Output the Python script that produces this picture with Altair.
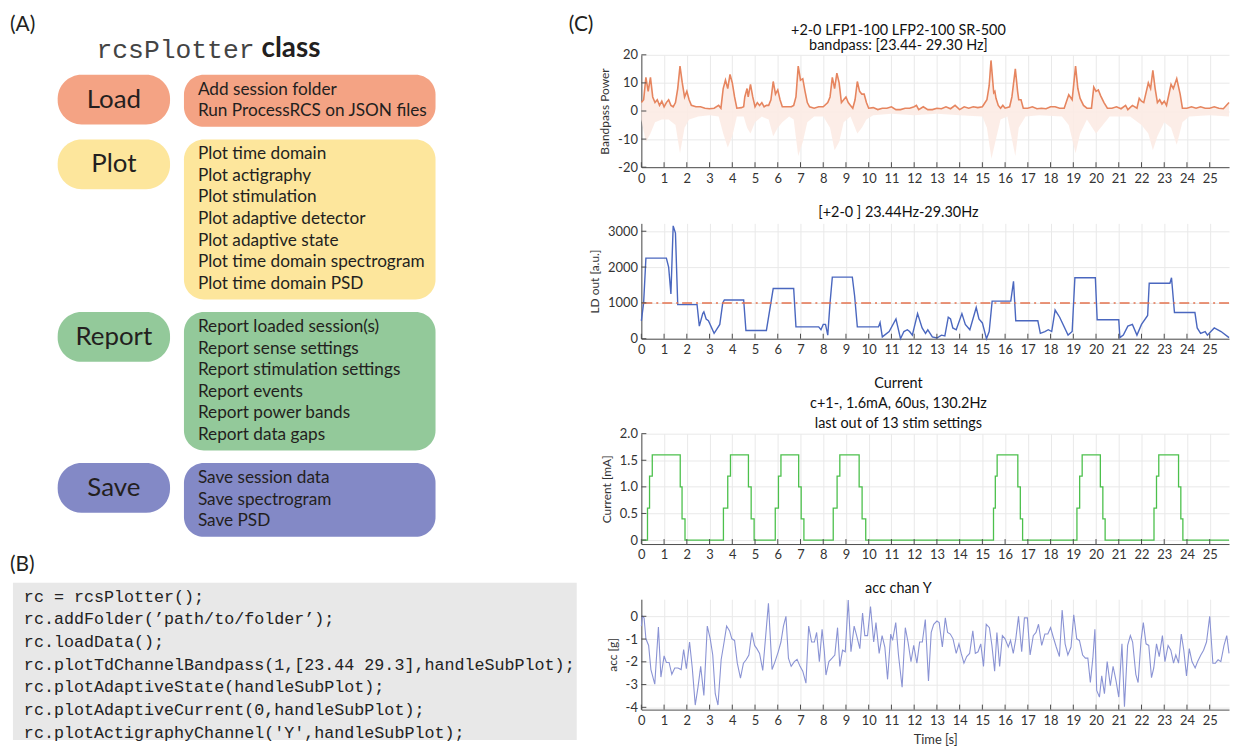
import altair as alt
import pandas as pd

FONT = "Lato"
MONO = "Liberation Mono"

# ---------------- data: panel (A) ----------------
GROUP_NAMES = ["Load", "Plot", "Report", "Save"]
GROUP_COLORS = ["#f4a384", "#fde69c", "#93c99a", "#8389c6"]
GROUP_ITEMS = [
    ["Add session folder", "Run ProcessRCS on JSON files"],
    ["Plot time domain", "Plot actigraphy", "Plot stimulation", "Plot adaptive detector",
     "Plot adaptive state", "Plot time domain spectrogram", "Plot time domain PSD"],
    ["Report loaded session(s)", "Report sense settings", "Report stimulation settings",
     "Report events", "Report power bands", "Report data gaps"],
    ["Save session data", "Save spectrogram", "Save PSD"],
]

# ---------------- data: panel (B) ----------------
CODE_LINES = [
    "rc = rcsPlotter();",
    "rc.addFolder(\u2019path/to/folder\u2019);",
    "rc.loadData();",
    "rc.plotTdChannelBandpass(1,[23.44 29.3],handleSubPlot);",
    "rc.plotAdaptiveState(handleSubPlot);",
    "rc.plotAdaptiveCurrent(0,handleSubPlot);",
    "rc.plotActigraphyChannel('Y',handleSubPlot);",
]

# ---------------- data: panel (C) ----------------
X_MAX = 25.85
X_TICKS = list(range(0, 26))

BANDPASS = [
    (0, 3), (0.1, 4), (0.2, 12), (0.3, 7), (0.4, 12), (0.5, 5), (0.6, 3), (0.7, 4), (0.8, 2),
    (0.9, 3.5), (1.0, 1.5), (1.1, 3), (1.2, 4), (1.3, 2), (1.4, 1.5), (1.5, 3), (1.6, 8),
    (1.7, 16), (1.8, 10), (1.9, 5), (2.0, 7), (2.1, 4), (2.2, 2), (2.4, 1.5), (2.6, 1.5),
    (2.8, 1), (3.0, 0.8), (3.2, 1), (3.4, 2), (3.5, 1), (3.6, 8), (3.7, 11), (3.8, 8),
    (3.9, 13), (4.0, 10), (4.1, 5), (4.2, 1), (4.4, 1.2), (4.5, 1.5), (4.55, 5), (4.65, 8),
    (4.7, 5), (4.8, 9.5), (4.9, 5), (5.0, 1.5), (5.1, 3), (5.2, 2), (5.3, 3), (5.4, 1.5),
    (5.5, 2), (5.6, 2), (5.7, 4), (5.8, 10.5), (5.9, 6), (6.0, 7.5), (6.1, 4), (6.2, 1.5),
    (6.4, 1.5), (6.6, 1.5), (6.7, 2), (6.8, 5), (6.9, 16), (7.0, 11), (7.1, 11.5), (7.2, 7),
    (7.3, 3), (7.4, 1.5), (7.6, 1), (7.8, 1.5), (8.0, 1.5), (8.2, 3), (8.3, 5), (8.4, 12),
    (8.5, 8), (8.6, 13.5), (8.7, 10), (8.8, 3), (8.9, 4), (9.0, 5), (9.1, 3), (9.2, 2),
    (9.3, 1), (9.4, 4), (9.5, 10.5), (9.6, 7), (9.7, 6), (9.8, 6), (9.9, 3), (10.0, 1),
    (10.2, 1.2), (10.4, 0.5), (10.6, 1), (10.8, 1), (11.0, 1.5), (11.2, 0.5), (11.4, 0.5),
    (11.6, 1), (11.8, 1), (12.0, 1.5), (12.1, 2), (12.2, 0.5), (12.4, 1.5), (12.6, 0.5),
    (12.8, 0.5), (13.0, 1), (13.2, 0.8), (13.4, 1.5), (13.6, 0.8), (13.8, 2), (14.0, 0.5),
    (14.2, 1.5), (14.4, 1), (14.6, 1.5), (14.8, 1.2), (15.0, 1.5), (15.2, 4), (15.3, 9),
    (15.38, 18), (15.5, 6.5), (15.55, 7), (15.6, 4.5), (15.7, 2), (15.8, 1), (15.9, 2),
    (16.0, 1), (16.2, 1.5), (16.3, 5), (16.45, 15), (16.55, 7), (16.6, 4), (16.7, 4),
    (16.8, 1), (17.0, 1), (17.2, 1.5), (17.4, 0.8), (17.6, 1), (17.8, 0.8), (18.0, 1.5),
    (18.2, 1.5), (18.4, 1), (18.6, 1), (18.8, 5.8), (18.95, 4), (19.1, 16), (19.2, 8),
    (19.3, 4.5), (19.45, 2), (19.6, 1), (19.8, 1), (19.9, 8.5), (20.0, 7), (20.1, 7.5),
    (20.2, 5.5), (20.35, 3), (20.5, 1), (20.7, 1), (20.9, 1.5), (21.1, 0.8), (21.3, 2),
    (21.4, 0.5), (21.6, 2), (21.8, 1), (21.9, 4.5), (22.0, 3.5), (22.1, 3), (22.3, 10),
    (22.4, 8), (22.5, 14.5), (22.6, 8), (22.7, 3), (22.8, 4), (22.9, 2.5), (23.0, 3.5),
    (23.1, 2), (23.3, 9.5), (23.4, 8), (23.55, 11.5), (23.7, 6), (23.8, 1), (24.0, 1),
    (24.2, 1.5), (24.4, 1), (24.6, 1.5), (24.8, 1), (25.0, 1), (25.2, 1.5), (25.4, 1),
    (25.6, 0.8), (25.85, 3),
]

BANDPASS_NEG = [
    (0, -3), (0.2, -11), (0.4, -8), (0.6, -4), (0.9, -3), (1.2, -3), (1.5, -5), (1.7, -15),
    (1.9, -6), (2.1, -3), (2.5, -2), (3.0, -1.5), (3.4, -2), (3.6, -8), (3.8, -13), (4.0, -9),
    (4.2, -2), (4.5, -2), (4.65, -6), (4.8, -8), (5.0, -4), (5.3, -2), (5.6, -3), (5.8, -9),
    (6.0, -6), (6.2, -4), (6.5, -2), (6.7, -3), (6.9, -16), (7.1, -11), (7.3, -4), (7.6, -2),
    (8.0, -2), (8.3, -6), (8.5, -14), (8.7, -11), (8.9, -4), (9.2, -2), (9.5, -8), (9.7, -6),
    (9.9, -3), (10.2, -1.5), (11.0, -1), (12.0, -1.5), (13.0, -1), (14.0, -1.5), (15.0, -2),
    (15.2, -6), (15.4, -17), (15.6, -10), (15.8, -3), (16.1, -2), (16.45, -16), (16.6, -6),
    (16.9, -2), (17.5, -1.5), (18.5, -2), (18.8, -5), (19.1, -15), (19.3, -8), (19.6, -3),
    (20.0, -8), (20.3, -5), (20.6, -2), (21.5, -2), (22.0, -5), (22.3, -8), (22.5, -14),
    (22.7, -9), (23.0, -4), (23.3, -6), (23.55, -12), (23.8, -4), (24.1, -2), (25.0, -1.5),
    (25.85, -2),
]

LD_OUT = [
    (0, 500), (0.1, 1000), (0.2, 2250), (1.1, 2250), (1.2, 2000), (1.3, 1250), (1.4, 3150),
    (1.5, 2950), (1.6, 950), (2.45, 950), (2.55, 350), (2.7, 700), (2.75, 750), (2.85, 550),
    (2.95, 500), (3.2, 150), (3.3, 250), (3.45, 400), (3.58, 1000), (3.65, 1080), (4.5, 1080),
    (4.6, 230), (5.5, 230), (5.8, 1400), (6.7, 1400), (6.8, 330), (7.8, 330), (7.9, 250),
    (8.0, 400), (8.1, 400), (8.2, 100), (8.3, 1000), (8.4, 1720), (9.28, 1720), (9.38, 1200),
    (9.5, 330), (10.43, 330), (10.5, 450), (10.6, 50), (10.9, 200), (11.2, 550), (11.4, 0),
    (11.55, 200), (11.7, 250), (11.8, 200), (11.92, 100), (12.15, 700), (12.35, 300),
    (12.5, 150), (12.6, 250), (12.8, 50), (13.0, 20), (13.2, 100), (13.35, 80), (13.5, 600),
    (13.6, 550), (13.7, 300), (13.85, 250), (14.1, 700), (14.25, 400), (14.45, 250),
    (14.73, 870), (14.85, 550), (15.0, 440), (15.18, 0), (15.3, 200), (15.43, 1050),
    (16.25, 1050), (16.37, 1600), (16.47, 500), (17.44, 500), (17.55, 150), (17.75, 200),
    (17.9, 250), (18.05, 200), (18.2, 800), (18.4, 600), (18.77, 100), (18.95, 200),
    (19.07, 1700), (19.97, 1700), (20.05, 530), (21.0, 530), (21.05, 30), (21.2, 100),
    (21.4, 350), (21.6, 400), (21.8, 100), (22.0, 400), (22.27, 650), (22.34, 1550),
    (23.25, 1550), (23.32, 1700), (23.45, 730), (24.35, 730), (24.45, 300), (24.6, 150),
    (24.8, 200), (24.9, 100), (25.2, 300), (25.5, 200), (25.85, 30),
]
LD_THRESHOLD = [1000]

CURRENT = [
    (0, 0), (0.27, 0.6), (0.36, 1.2), (0.48, 1.6), (1.71, 1.0), (1.79, 0.4), (1.92, 0),
    (3.61, 0.6), (3.8, 1.2), (3.92, 1.6), (4.71, 1.0), (4.83, 0.4), (4.96, 0),
    (5.89, 0.6), (6.03, 1.2), (6.14, 1.6), (6.92, 1.0), (7.03, 0.4), (7.15, 0),
    (8.44, 0.6), (8.61, 1.2), (8.73, 1.6), (9.58, 1.0), (9.71, 0.4), (9.87, 0),
    (15.49, 0.6), (15.57, 1.2), (15.65, 1.6), (16.56, 1.0), (16.67, 0.4), (16.77, 0),
    (19.16, 0.6), (19.28, 1.2), (19.39, 1.6), (20.19, 1.0), (20.3, 0.4), (20.4, 0),
    (22.55, 0.6), (22.66, 1.2), (22.76, 1.6), (23.63, 1.0), (23.73, 0.4), (23.82, 0),
    (25.85, 0),
]

ACC_Y = [
    (0.00, -0.43), (0.05, 0.00), (0.12, -0.07), (0.20, -0.99), (0.32, -1.28), (0.42, -2.34),
    (0.59, -2.98), (0.75, -0.47), (0.86, -2.67), (1.00, -1.74), (1.10, -2.03), (1.22, -2.03),
    (1.34, -2.55), (1.47, -2.27), (1.61, -2.27), (1.75, -2.34), (1.86, -1.46), (1.98, -2.30),
    (2.12, -1.13), (2.24, -2.27), (2.37, -3.90), (2.49, -3.12), (2.61, -2.20), (2.75, -3.48),
    (2.90, -0.43), (3.03, -0.99), (3.14, -1.70), (3.25, -3.40), (3.37, -3.90), (3.51, -1.91),
    (3.64, -1.13), (3.75, -0.43), (3.88, -0.64), (3.98, -0.99), (4.10, -1.06), (4.22, -2.06),
    (4.36, -2.72), (4.49, -2.06), (4.61, -1.91), (4.73, -1.70), (4.86, -0.71), (4.98, -1.28),
    (5.08, -1.42), (5.20, -1.63), (5.34, -2.38), (5.47, -0.85), (5.59, 0.57), (5.75, -2.34),
    (5.88, -1.99), (6.02, -1.56), (6.14, -1.13), (6.25, -0.43), (6.36, 0.00), (6.47, -1.84),
    (6.59, -2.20), (6.73, -1.99), (6.85, -1.89), (6.98, -2.20), (7.10, -2.41), (7.24, -2.94),
    (7.36, -0.43), (7.49, -1.13), (7.61, -1.13), (7.71, -0.71), (7.83, -1.99), (7.95, -0.57),
    (8.05, -1.56), (8.12, -2.58), (8.25, -1.99), (8.39, -1.84), (8.51, -1.70), (8.63, -0.50),
    (8.73, -2.20), (8.85, -1.49), (8.97, -1.56), (9.10, 0.71), (9.22, -1.56), (9.36, -0.43),
    (9.47, -0.85), (9.61, -1.42), (9.73, 0.14), (9.83, -0.85), (9.95, -0.85), (10.08, 0.43),
    (10.22, -1.13), (10.32, -0.28), (10.46, -1.63), (10.59, -0.85), (10.71, -1.35),
    (10.83, -2.77), (10.97, -0.78), (11.05, -1.06), (11.19, -0.28), (11.31, -1.70),
    (11.47, -3.12), (11.61, -0.50), (11.73, -1.13), (11.86, -1.99), (11.98, -1.28),
    (12.12, -2.06), (12.24, -1.13), (12.36, -1.13), (12.49, -0.14), (12.63, -2.84),
    (12.75, -0.71), (12.86, -0.35), (13.00, -0.21), (13.10, -0.28), (13.24, -1.35),
    (13.37, -0.07), (13.47, -0.71), (13.59, -0.78), (13.71, -0.99), (13.85, -1.63),
    (13.97, -1.21), (14.07, -1.63), (14.19, -2.06), (14.31, -1.77), (14.44, -1.63),
    (14.58, -0.64), (14.69, -1.63), (14.81, -1.56), (14.93, -1.21), (15.05, -2.20),
    (15.17, -0.35), (15.31, -0.50), (15.42, -1.28), (15.54, -2.41), (15.64, -0.71),
    (15.76, -2.20), (15.88, -0.85), (16.00, -0.99), (16.14, -1.35), (16.24, -1.06),
    (16.36, -1.63), (16.47, -0.99), (16.59, 0.00), (16.73, -1.56), (16.85, -0.07),
    (16.98, -0.07), (17.10, -1.70), (17.24, -0.85), (17.36, -0.71), (17.47, -0.35),
    (17.61, -1.28), (17.75, -0.78), (17.88, -0.78), (18.00, -0.50), (18.12, -0.92),
    (18.25, -1.35), (18.39, -1.77), (18.51, 0.28), (18.64, -1.21), (18.76, -1.70),
    (18.90, -1.35), (19.02, 0.07), (19.15, -0.99), (19.27, -1.06), (19.41, -1.70),
    (19.53, -1.84), (19.64, -1.84), (19.75, -2.91), (19.86, -1.84), (19.95, -0.57),
    (20.03, -3.26), (20.15, -3.55), (20.25, -2.62), (20.37, -3.40), (20.49, -1.99),
    (20.63, -3.05), (20.75, -2.20), (20.88, -2.84), (21.00, -3.55), (21.14, -1.21),
    (21.25, -3.97), (21.39, -1.28), (21.51, -0.85), (21.61, -1.13), (21.75, -2.55),
    (21.85, -2.91), (21.98, -1.06), (22.08, -0.28), (22.20, -1.21), (22.32, -1.28),
    (22.44, -2.70), (22.54, -2.27), (22.66, -1.21), (22.78, -1.77), (22.92, -0.85),
    (23.03, -1.99), (23.17, -1.28), (23.29, -1.49), (23.41, -2.06), (23.51, -1.70),
    (23.63, -2.06), (23.75, -0.78), (23.86, -1.49), (23.98, -2.62), (24.10, -1.42),
    (24.22, -1.99), (24.36, -2.27), (24.47, -1.99), (24.61, -1.70), (24.73, -1.49),
    (24.86, -1.13), (25.00, 0.00), (25.14, -2.06), (25.25, -2.06), (25.37, -1.91),
    (25.49, -1.99), (25.63, -1.28), (25.75, -0.85), (25.85, -1.63),
]

# ---------------- layout (panel A/B, in page pixels) ----------------
W_LEFT = 580
H_PAGE = 751
TOP_PAD = 5
Y_ORIGIN = 53          # the left view's plot area is aligned with the first right panel
LINE_H = 21.7
BOX_TOP0 = 73
BOX_GAP = 12

xs = alt.Scale(domain=[0, W_LEFT], nice=False, zero=False)
ys = alt.Scale(domain=[Y_ORIGIN, H_PAGE], nice=False, zero=False, reverse=True)


def XL(f):
    return alt.X(f, type="quantitative", scale=xs, axis=None)


def YL(f):
    return alt.Y(f, type="quantitative", scale=ys, axis=None)


right_boxes, left_boxes, labels, items = [], [], [], []
top = BOX_TOP0
for name, color, its in zip(GROUP_NAMES, GROUP_COLORS, GROUP_ITEMS):
    h = len(its) * LINE_H + 9
    right_boxes.append(dict(x=185, x2=438, y=top, y2=top + h, color=color))
    left_boxes.append(dict(x=58, x2=171, y=top, y2=top + 50, color=color))
    labels.append(dict(x=114.5, y=top + 25, text=name))
    for i, it in enumerate(its):
        items.append(dict(x=199, y=top + 15 + i * LINE_H, text=it))
    top += h + BOX_GAP + 0.7

rect_r = alt.Chart(pd.DataFrame(right_boxes)).mark_rect(cornerRadius=20).encode(
    x=XL("x"), x2="x2", y=YL("y"), y2="y2", color=alt.Color("color:N", scale=None))
rect_l = alt.Chart(pd.DataFrame(left_boxes)).mark_rect(cornerRadius=24).encode(
    x=XL("x"), x2="x2", y=YL("y"), y2="y2", color=alt.Color("color:N", scale=None))
label_t = alt.Chart(pd.DataFrame(labels)).mark_text(
    font=FONT, fontSize=26, color="#231f20", align="center", baseline="middle").encode(
    x=XL("x"), y=YL("y"), text="text:N")
item_t = alt.Chart(pd.DataFrame(items)).mark_text(
    font=FONT, fontSize=17.3, color="#231f20", align="left", baseline="middle").encode(
    x=XL("x"), y=YL("y"), text="text:N")

letters = pd.DataFrame(dict(x=[10, 10, 572], y=[23, 566, 23], text=["(A)", "(B)", "(C)"]))
letter_t = alt.Chart(letters).mark_text(
    font=FONT, fontSize=21, color="#231f20", align="left", baseline="middle").encode(
    x=XL("x"), y=YL("y"), text="text:N")

head_mono = alt.Chart(pd.DataFrame(dict(x=[97], y=[48], text=["rcsPlotter"]))).mark_text(
    font=MONO, fontSize=26.5, color="#444444", align="left", baseline="middle").encode(
    x=XL("x"), y=YL("y"), text="text:N")
head_bold = alt.Chart(pd.DataFrame(dict(x=[263], y=[47], text=["class"]))).mark_text(
    font=FONT, fontSize=28, fontWeight="bold", color="#231f20", align="left",
    baseline="middle").encode(x=XL("x"), y=YL("y"), text="text:N")

code_box = alt.Chart(pd.DataFrame(dict(x=[13], x2=[W_LEFT], y=[584], y2=[742]))).mark_rect(
    color="#e8e8e8").encode(x=XL("x"), x2="x2", y=YL("y"), y2="y2")
code_df = pd.DataFrame(dict(x=[24] * len(CODE_LINES),
                            y=[598 + i * 22.8 for i in range(len(CODE_LINES))],
                            text=CODE_LINES))
code_t = alt.Chart(code_df).mark_text(
    font=MONO, fontSize=16.8, color="#222222", align="left", baseline="middle",
    clip=True).encode(x=XL("x"), y=YL("y"), text="text:N")

left = alt.layer(rect_r, rect_l, label_t, item_t, letter_t, head_mono, head_bold,
                 code_box, code_t).properties(width=W_LEFT, height=H_PAGE - Y_ORIGIN)

# ---------------- panel (C) ----------------
PW = 591
GRID = "#e9e9e9"
AX = "#4d4d4d"


def xenc(title=None):
    return alt.X("t:Q", scale=alt.Scale(domain=[0, X_MAX], nice=False, zero=False),
                 axis=alt.Axis(values=X_TICKS, title=title, grid=True, gridColor=GRID,
                               tickSize=0, labelPadding=5, labelFlush=False,
                               labelFontSize=13, titleFontSize=13, titlePadding=6))


def yenc(domain, ticks, title, expr):
    return alt.Y("v:Q", scale=alt.Scale(domain=domain, nice=False, zero=False),
                 axis=alt.Axis(values=ticks, title=title, grid=True, gridColor=GRID,
                               tickSize=0, labelPadding=4, labelExpr=expr,
                               labelFontSize=13, titleFontSize=12, titlePadding=6))


def ticks_layers(h, X, Y, yticks):
    xt = alt.Chart(pd.DataFrame(dict(t=X_TICKS))).mark_rule(color=AX, strokeWidth=1).encode(
        x=X, y=alt.value(h), y2=alt.value(h - 5))
    yt = alt.Chart(pd.DataFrame(dict(v=yticks))).mark_rule(color=AX, strokeWidth=1).encode(
        y=Y, x=alt.value(0), x2=alt.value(5))
    return [xt, yt]


def ttl(lines, offset, lh=16.5):
    return alt.TitleParams(text=lines, font=FONT, fontSize=14.5, fontWeight="normal",
                           color="#111111", offset=offset, dx=-37, lineHeight=lh)


def df(pairs):
    return pd.DataFrame(pairs, columns=["t", "v"])


# Panel 1
H1 = 113
T1 = [-20, -10, 0, 10, 20]
X1 = xenc()
Y1 = yenc([-20, 20], T1, "Bandpass Power", "datum.value + ''")
neg = alt.Chart(df(BANDPASS_NEG)).mark_area(color="#fcebe4", opacity=0.9).encode(
    x=X1, y=Y1, y2=alt.datum(0))
pos = alt.Chart(df(BANDPASS)).mark_area(color="#fcebe4", opacity=0.9).encode(
    x=X1, y=Y1, y2=alt.datum(0))
bpl = alt.Chart(df(BANDPASS)).mark_line(color="#e6855f", strokeWidth=1.6).encode(x=X1, y=Y1)
p1 = alt.layer(neg, pos, bpl, *ticks_layers(H1, X1, Y1, T1)).properties(
    width=PW, height=H1,
    title=ttl([" ", "+2-0 LFP1-100 LFP2-100 SR-500", "bandpass: [23.44- 29.30 Hz]"], -5,
              15.5))

# Panel 2
H2 = 116
T2 = [0, 1000, 2000, 3000]
X2 = xenc()
Y2 = yenc([0, 3220], T2, "LD out [a.u.]", "datum.value + ''")
thr = alt.Chart(pd.DataFrame(dict(v=LD_THRESHOLD))).mark_rule(
    color="#e4734f", strokeWidth=1.5, strokeDash=[10, 4, 2, 4]).encode(y=Y2)
ldl = alt.Chart(df(LD_OUT)).mark_line(color="#4a67bf", strokeWidth=1.4).encode(x=X2, y=Y2)
p2 = alt.layer(ldl, thr, *ticks_layers(H2, X2, Y2, T2)).properties(
    width=PW, height=H2, title=ttl(["[+2-0 ] 23.44Hz-29.30Hz"], 3))

# Panel 3
H3 = 111
T3 = [0, 0.5, 1.0, 1.5, 2.0]
X3 = xenc()
Y3 = yenc([-0.075, 2.0], T3, "Current [mA]",
          "datum.value == 0 ? '0' : format(datum.value, '.1f')")
cur = alt.Chart(df(CURRENT)).mark_line(color="#4cc04c", strokeWidth=1.3,
                                       interpolate="step-after").encode(x=X3, y=Y3)
p3 = alt.layer(cur, *ticks_layers(H3, X3, Y3, T3)).properties(
    width=PW, height=H3,
    title=ttl(["Current", "c+1-, 1.6mA, 60us, 130.2Hz", "last out of 13 stim settings"],
              -4, 20))

# Panel 4
H4 = 111
T4 = [-4, -3, -2, -1, 0]
X4 = xenc("Time [s]")
Y4 = yenc([-4.1, 0.75], T4, "acc [g]", "datum.value + ''")
accl = alt.Chart(df(ACC_Y)).mark_line(color="#8a93d4", strokeWidth=1.1).encode(x=X4, y=Y4)
p4 = alt.layer(accl, *ticks_layers(H4, X4, Y4, T4)).properties(
    width=PW, height=H4, title=ttl(["acc chan Y"], 1))

right = alt.vconcat(p1, p2, p3, p4, spacing=19.5)

chart = alt.hconcat(left, right, spacing=-6).properties(
    padding={"top": TOP_PAD, "bottom": 0, "left": 0, "right": 0}, background="white"
).configure_view(stroke=None).configure_axis(
    labelFont=FONT, titleFont=FONT, labelColor="#333333", titleColor="#333333",
    titleFontWeight="normal", domainColor=AX, domainWidth=1
).configure_title(font=FONT)

chart.save("out.html", embed_options={"renderer": "svg", "actions": False})
